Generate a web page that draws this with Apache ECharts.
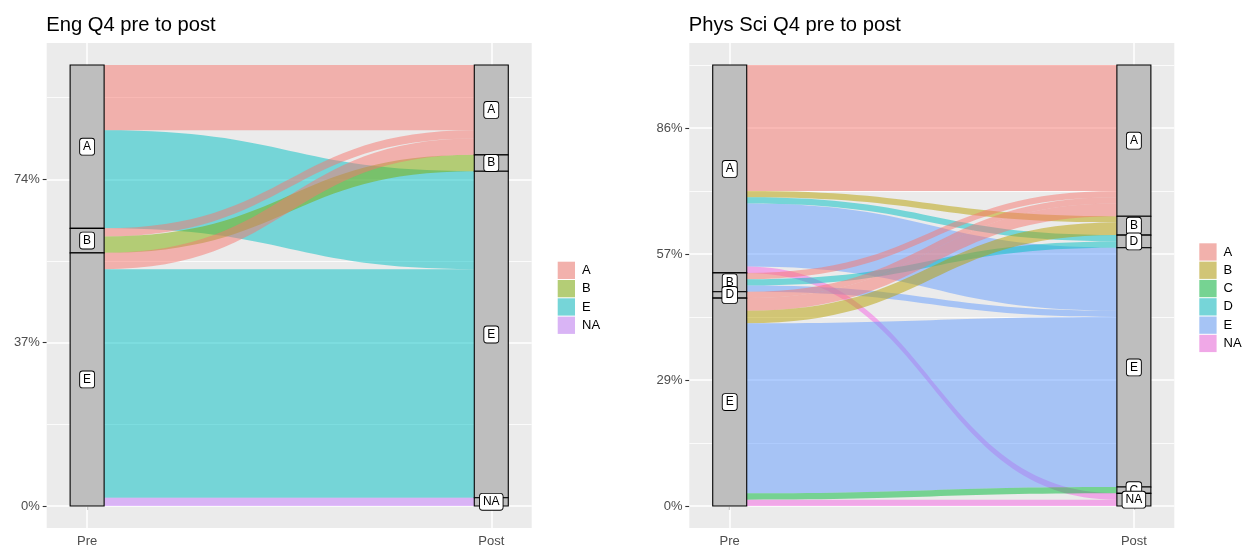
<!DOCTYPE html>
<html>
<head>
<meta charset="utf-8">
<script src="https://cdn.jsdelivr.net/npm/echarts@6/dist/echarts.min.js"></script>
<style>
html, body { margin: 0; background: #fff; }
#main { width: 1248px; height: 548px; }
</style>
</head>
<body>
<div id="main"></div>
<script>
// ---- data (weights are respondents; axis shows % of total) ----
var x_levels = ['Pre', 'Post']

var eng_pre = ['A', 'B', 'E']
var eng_post = ['A', 'B', 'E', 'NA']
var eng_from = ['A', 'A', 'B', 'B', 'E', 'E', 'E']
var eng_to = ['A', 'E', 'A', 'B', 'A', 'E', 'NA']
var eng_weight = [4, 6, 0.5, 1, 1, 14, 0.5]
var eng_breaks = [0, 10, 20]
var eng_minor = [5, 15, 25]
var eng_legend = ['A', 'B', 'E', 'NA']
var eng_fill = ['#F8766D', '#7CAE00', '#00BFC4', '#C77CFF']

var phys_pre = ['A', 'B', 'D', 'E']
var phys_post = ['A', 'B', 'D', 'E', 'C', 'NA']
var phys_from = ['A', 'A', 'A', 'A', 'A', 'B', 'B', 'B', 'D', 'E', 'E', 'E', 'E', 'E']
var phys_to = ['A', 'B', 'D', 'E', 'NA', 'A', 'D', 'E', 'A', 'A', 'B', 'E', 'C', 'NA']
var phys_weight = [10, 0.5, 0.5, 5, 0.5, 0.5, 0.5, 0.5, 0.5, 1, 1, 13.5, 0.5, 0.5]
var phys_breaks = [0, 10, 20, 30]
var phys_minor = [5, 15, 25, 35]
var phys_legend = ['A', 'B', 'C', 'D', 'E', 'NA']
var phys_fill = ['#F8766D', '#B79F00', '#00BA38', '#00BFC4', '#619CFF', '#F564E3']

var panels = [
    {title: 'Eng Q4 pre to post', pre: eng_pre, post: eng_post, from: eng_from, to: eng_to,
     weight: eng_weight, breaks: eng_breaks, minor: eng_minor, legend: eng_legend, fill: eng_fill,
     left: 46.7, legendLeft: 557.7, legendTop: 261.7},
    {title: 'Phys Sci Q4 pre to post', pre: phys_pre, post: phys_post, from: phys_from, to: phys_to,
     weight: phys_weight, breaks: phys_breaks, minor: phys_minor, legend: phys_legend, fill: phys_fill,
     left: 689.3, legendLeft: 1199.3, legendTop: 243.3}
]

var FONT = '"Liberation Sans", Arial, sans-serif'
var PANEL_TOP = 43, PANEL_W = 485, PANEL_H = 486
var STRATUM_W = 34
var AXIS_FONT = 13

// alpha 0.5 over the grey92 key background
function over_grey(hex) {
    var n = parseInt(hex.slice(1), 16)
    var c = [n >> 16, (n >> 8) & 255, n & 255].map(function (v) { return Math.round(v * 0.5 + 235 * 0.5) })
    return 'rgb(' + c.join(',') + ')'
}

function sum(a) { return a.reduce(function (s, v) { return s + v }, 0) }

var chart = echarts.init(document.getElementById('main'))

var option = {
    animation: false,
    textStyle: {fontFamily: FONT},
    title: [], grid: [], xAxis: [], yAxis: [], legend: [], series: []
}

panels.forEach(function (p, i) {
    var total = sum(p.weight)
    p.total = total
    option.title.push({
        text: p.title, left: p.left - 0.5, top: 15.5, padding: 0,
        textStyle: {fontSize: 20.2, fontWeight: 'normal', color: '#000', fontFamily: FONT}
    })
    option.grid.push({
        left: p.left, top: PANEL_TOP, width: PANEL_W, height: PANEL_H,
        show: true, backgroundColor: '#EBEBEB', borderWidth: 0
    })
    option.xAxis.push({
        type: 'value', gridIndex: i, min: 0.9, max: 2.1,
        axisLine: {show: false}, splitLine: {show: false},
        axisTick: {customValues: [1, 2], length: 4, lineStyle: {color: '#333333', width: 1.1}},
        axisLabel: {
            customValues: [1, 2], margin: 7, fontSize: AXIS_FONT, color: '#4D4D4D',
            formatter: function (v) { return x_levels[Math.round(v) - 1] }
        }
    })
    option.yAxis.push({
        type: 'value', gridIndex: i, min: -0.05 * total, max: 1.05 * total,
        axisLine: {show: false}, splitLine: {show: false},
        axisTick: {customValues: p.breaks, length: 4, lineStyle: {color: '#333333', width: 1.1}},
        axisLabel: {
            customValues: p.breaks, margin: 6.8, fontSize: AXIS_FONT, color: '#4D4D4D',
            formatter: function (v) { return Math.round(v / total * 100) + '%' }
        }
    })
    // panel grid lines
    var lines = []
    p.minor.forEach(function (v) { lines.push({yAxis: v, lineStyle: {color: '#fff', width: 0.8}}) })
    p.breaks.forEach(function (v) { lines.push({yAxis: v, lineStyle: {color: '#fff', width: 1.5}}) })
    lines.push({xAxis: 1, lineStyle: {color: '#fff', width: 1.5}})
    lines.push({xAxis: 2, lineStyle: {color: '#fff', width: 1.5}})
    option.series.push({
        type: 'line', xAxisIndex: i, yAxisIndex: i, data: [], silent: true, z: 1,
        markLine: {
            silent: true, z: 1, symbol: ['none', 'none'], label: {show: false},
            lineStyle: {type: 'solid'}, emphasis: {disabled: true}, data: lines
        }
    })
    // legend proxies
    p.legend.forEach(function (name, k) {
        option.series.push({
            type: 'bar', name: name, xAxisIndex: i, yAxisIndex: i, data: [],
            itemStyle: {color: over_grey(p.fill[k])}
        })
    })
    option.legend.push({
        orient: 'vertical', left: p.legendLeft, top: p.legendTop, padding: 0,
        itemWidth: 17.3, itemHeight: 17.3, itemGap: 1, icon: 'rect',
        selectedMode: false,
        textStyle: {fontSize: AXIS_FONT, color: '#000', padding: [0, 0, 0, 2]},
        data: p.legend.map(function (name, k) {
            return {name: name, itemStyle: {color: over_grey(p.fill[k]), borderWidth: 0}}
        })
    })
})

chart.setOption(option)

// alluvia: a sankey whose box is taken from each panel's own axes
var sankeys = panels.map(function (p, i) {
    var topLeft = chart.convertToPixel({gridIndex: i}, [1, p.total])
    var botRight = chart.convertToPixel({gridIndex: i}, [2, 0])
    var nodes = []
    p.pre.forEach(function (c) { nodes.push({name: 'Pre ' + c}) })
    p.post.forEach(function (c) { nodes.push({name: 'Post ' + c}) })
    var links = p.from.map(function (f, k) {
        var col = p.fill[p.legend.indexOf(p.to[k])]
        return {source: 'Pre ' + f, target: 'Post ' + p.to[k], value: p.weight[k], lineStyle: {color: col}}
    })
    return {
        type: 'sankey', z: 10, silent: true,
        left: topLeft[0] - STRATUM_W / 2, top: topLeft[1],
        width: botRight[0] - topLeft[0] + STRATUM_W, height: botRight[1] - topLeft[1],
        nodeWidth: STRATUM_W, nodeGap: 0, layoutIterations: 0, draggable: false,
        emphasis: {disabled: true},
        data: nodes, links: links,
        itemStyle: {color: '#BEBEBE', borderColor: '#000', borderWidth: 1.1, opacity: 1},
        lineStyle: {opacity: 0.5, curveness: 0.5},
        label: {
            show: true, position: 'inside', fontSize: 12, color: '#000', fontFamily: FONT,
            backgroundColor: '#fff', borderColor: '#000', borderWidth: 0.9, borderRadius: 2.5,
            padding: [2.5, 3, 1.5, 3],
            formatter: function (prm) { return prm.name.split(' ')[1] }
        }
    }
})

chart.setOption({series: option.series.concat(sankeys)})

window.addEventListener('resize', function () { chart.resize() })
</script>
</body>
</html>
